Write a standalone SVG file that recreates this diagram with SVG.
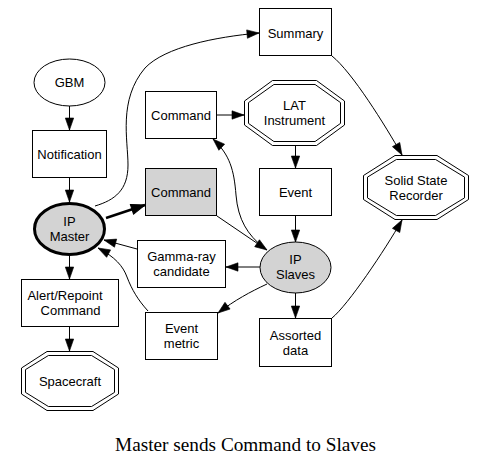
<svg xmlns="http://www.w3.org/2000/svg" width="487" height="467" viewBox="0 0 487 467">
<defs>
<style>
.n{fill:#fff;stroke:#000;stroke-width:1}
.g{fill:#d3d3d3;stroke:#000;stroke-width:1}
.thick{stroke-width:3}
.t{font-family:"Liberation Sans",Arial,sans-serif;font-size:13px;fill:#000;text-anchor:middle}
.e{fill:none;stroke:#000;stroke-width:1;marker-end:url(#a)}
.cap{font-family:"Liberation Serif","Times New Roman",serif;font-size:19.25px;fill:#000;text-anchor:middle}
</style>
<marker id="a" markerUnits="userSpaceOnUse" markerWidth="12" markerHeight="9" refX="10" refY="3.5" orient="auto" viewBox="0 0 10 7" overflow="visible">
<path d="M0,0 L10,3.5 L0,7 z" fill="#000" stroke="#000" stroke-width="0.5"/>
</marker>
<marker id="b" markerUnits="userSpaceOnUse" markerWidth="14" markerHeight="10" refX="11" refY="4" orient="auto" viewBox="0 0 11 8" overflow="visible">
<path d="M0,0 L11,4 L0,8 z" fill="#000" stroke="#000" stroke-width="0.8"/>
</marker>
</defs>
<rect width="487" height="467" fill="#fff"/>

<g id="edges">
<path class="e" d="M69.5,106 L69.5,130"/>
<path class="e" d="M69.5,178 L69.5,202"/>
<path class="e" d="M69.5,256 L69.5,279"/>
<path class="e" d="M69.5,327 L69.5,351"/>
<path d="M106,218 L145,205" fill="none" stroke="#000" stroke-width="2.5" marker-end="url(#b)"/>
<path class="e" d="M95,206 C115,200 128,190 128,165 C128,140 118,100 145,68 C165,47 215,37 259,33"/>
<path class="e" d="M217,216 L267,250"/>
<path class="e" d="M263,247 C248,235 238,220 236,195 C234,170 230,155 213,139"/>
<path class="e" d="M217,115 L244,115"/>
<path class="e" d="M295.5,146 L295.5,168"/>
<path class="e" d="M295.5,216 L295.5,242"/>
<path class="e" d="M260,267 L226,267"/>
<path class="e" d="M267,284 C250,292 235,300 218,313"/>
<path class="e" d="M295.5,293 L295.5,318"/>
<path class="e" d="M137,249 L104,240"/>
<path class="e" d="M148,311 C138,300 132,290 127,277 C123,266 115,257 98,248"/>
<path class="e" d="M332,56 C352,72 385,125 402,155"/>
<path class="e" d="M332,318 C348,305 385,250 402,220"/>
</g>

<g id="gbm">
<ellipse class="n" cx="69.5" cy="82.5" rx="35.5" ry="23.5"/>
<text class="t" x="69.5" y="87">GBM</text>
</g>
<g id="notification">
<rect class="n" x="32.5" y="130.5" width="74" height="47"/>
<text class="t" x="69.5" y="159">Notification</text>
</g>
<g id="ipmaster">
<ellipse class="g thick" cx="69.5" cy="229" rx="35" ry="25.5"/>
<text class="t" x="69.5" y="226">IP</text>
<text class="t" x="69.5" y="241">Master</text>
</g>
<g id="alert">
<rect class="n" x="21.5" y="279.5" width="97" height="47"/>
<text class="t" x="65" y="300">Alert/Repoint</text>
<text class="t" x="70.5" y="315">Command</text>
</g>
<g id="spacecraft">
<polygon class="n" points="47,351.5 93,351.5 118.5,368 118.5,394 93,410.5 47,410.5 21.5,394 21.5,368"/>
<polygon class="n" points="48.4,355.5 91.6,355.5 114.5,369.6 114.5,392.4 91.6,406.5 48.4,406.5 25.5,392.4 25.5,369.6"/>
<text class="t" x="70" y="386">Spacecraft</text>
</g>
<g id="command1">
<rect class="n" x="145.5" y="91.5" width="71" height="47"/>
<text class="t" x="181" y="120">Command</text>
</g>
<g id="command2">
<rect class="g" x="145.5" y="168.5" width="71" height="47"/>
<text class="t" x="181" y="197">Command</text>
</g>
<g id="gamma">
<rect class="n" x="137.5" y="240.5" width="88" height="47"/>
<text class="t" x="181.5" y="261">Gamma-ray</text>
<text class="t" x="181.5" y="276">candidate</text>
</g>
<g id="eventmetric">
<rect class="n" x="145.5" y="312.5" width="72" height="47"/>
<text class="t" x="181.5" y="333">Event</text>
<text class="t" x="181.5" y="348">metric</text>
</g>
<g id="summary">
<rect class="n" x="259.5" y="8.5" width="72" height="47"/>
<text class="t" x="295.5" y="37.5">Summary</text>
</g>
<g id="lat">
<polygon class="n" points="272.5,80.5 316.5,80.5 344.5,101 344.5,125 316.5,145.5 272.5,145.5 244.5,125 244.5,101"/>
<polygon class="n" points="273.9,84.5 315.1,84.5 340.5,102.6 340.5,123.4 315.1,141.5 273.9,141.5 248.5,123.4 248.5,102.6"/>
<text class="t" x="294.5" y="110">LAT</text>
<text class="t" x="294.5" y="125">Instrument</text>
</g>
<g id="event">
<rect class="n" x="259.5" y="168.5" width="72" height="47"/>
<text class="t" x="295.5" y="197">Event</text>
</g>
<g id="ipslaves">
<ellipse class="g" cx="295.5" cy="267.5" rx="35.5" ry="25.5"/>
<text class="t" x="295.5" y="264">IP</text>
<text class="t" x="295.5" y="279">Slaves</text>
</g>
<g id="assorted">
<rect class="n" x="259.5" y="318.5" width="72" height="48"/>
<text class="t" x="295.5" y="339.5">Assorted</text>
<text class="t" x="295.5" y="354.5">data</text>
</g>
<g id="ssr">
<polygon class="n" points="395,155.5 437,155.5 468.5,175.5 468.5,199.5 437,219.5 395,219.5 363.5,199.5 363.5,175.5"/>
<polygon class="n" points="396.4,159.5 435.6,159.5 464.5,177.1 464.5,197.9 435.6,215.5 396.4,215.5 367.5,197.9 367.5,177.1"/>
<text class="t" x="416" y="185">Solid State</text>
<text class="t" x="416" y="200">Recorder</text>
</g>
<text class="cap" x="245.5" y="451">Master sends Command to Slaves</text>
</svg>
